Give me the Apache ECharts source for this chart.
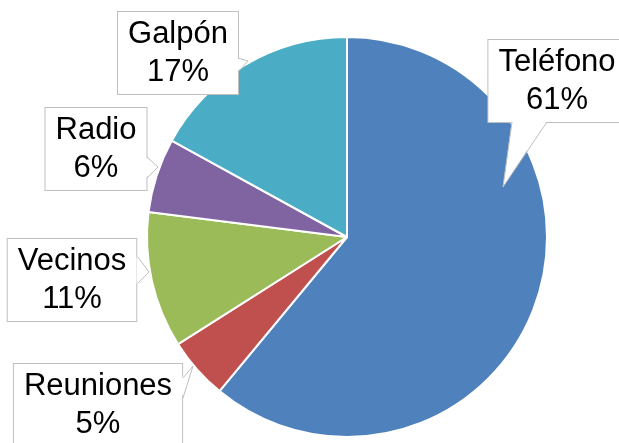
<!DOCTYPE html>
<html>
<head>
<meta charset="utf-8">
<script src="https://cdn.jsdelivr.net/npm/echarts@6/dist/echarts.min.js"></script>
<style>
  html, body { margin: 0; padding: 0; background: #fff; }
  #chart { width: 619px; height: 443px; }
</style>
</head>
<body>
<div id="chart"></div>
<script>
// Medio de comunicación utilizado (porcentaje)
const categories = ['Teléfono', 'Reuniones', 'Vecinos', 'Radio', 'Galpón'];
const values = [61, 5, 11, 6, 17];
const colors = ['#4F81BD', '#C0504D', '#9BBB59', '#8064A2', '#4BACC6'];

// Callout boxes: centre of each label box and its pointer (base on the box edge, tip toward the slice)
const callouts = [
  { cx: 557, cy: 81,  base: [[512, 122], [547, 122]], tip: [503, 187] },
  { cx: 98,  cy: 405, base: [[183, 378], [183, 398]], tip: [193, 366] },
  { cx: 72,  cy: 280, base: [[138, 257], [138, 283]], tip: [149, 272] },
  { cx: 96,  cy: 149, base: [[147, 157], [147, 178]], tip: [158, 167] },
  { cx: 178, cy: 53,  base: [[238, 58],  [238, 72]],  tip: [248, 61] }
];

const BORDER = '#BFBFBF';

function pointerGraphics() {
  const out = [];
  callouts.forEach(c => {
    const [b1, b2] = c.base;
    // nudge the base inward so the white fill hides the box border there
    const horiz = b1[1] === b2[1];
    const inward = horiz ? [[b1[0], b1[1] - 1.5], [b2[0], b2[1] - 1.5]]
                         : [[b1[0] - 1.5, b1[1]], [b2[0] - 1.5, b2[1]]];
    out.push({
      type: 'polygon', z: 100,
      shape: { points: [inward[0], c.tip, inward[1]] },
      style: { fill: '#fff', stroke: null }
    });
    out.push({
      type: 'polyline', z: 101,
      shape: { points: [b1, c.tip, b2] },
      style: { stroke: BORDER, lineWidth: 1, fill: null }
    });
  });
  return out;
}

const chart = echarts.init(document.getElementById('chart'), null, { renderer: 'canvas' });

chart.setOption({
  animation: false,
  backgroundColor: '#fff',
  color: colors,
  series: [{
    type: 'pie',
    center: [347, 237],
    radius: [0, 200],
    startAngle: 90,
    clockwise: true,
    avoidLabelOverlap: false,
    itemStyle: { borderColor: '#fff', borderWidth: 2 },
    label: {
      show: true,
      position: 'outside',
      formatter: '{b}\n{d}%',
      fontFamily: 'Liberation Sans, Arial, sans-serif',
      fontSize: 31,
      lineHeight: 38,
      color: '#000',
      align: 'center',
      backgroundColor: '#fff',
      borderColor: BORDER,
      borderWidth: 1,
      padding: [3, 10, 3, 10]
    },
    labelLine: { show: false },
    labelLayout: function (params) {
      const c = callouts[params.dataIndex];
      return { x: c.cx, y: c.cy, align: 'center', verticalAlign: 'middle' };
    },
    data: categories.map((name, i) => ({ name: name, value: values[i] }))
  }],
  graphic: pointerGraphics()
});
</script>
</body>
</html>
